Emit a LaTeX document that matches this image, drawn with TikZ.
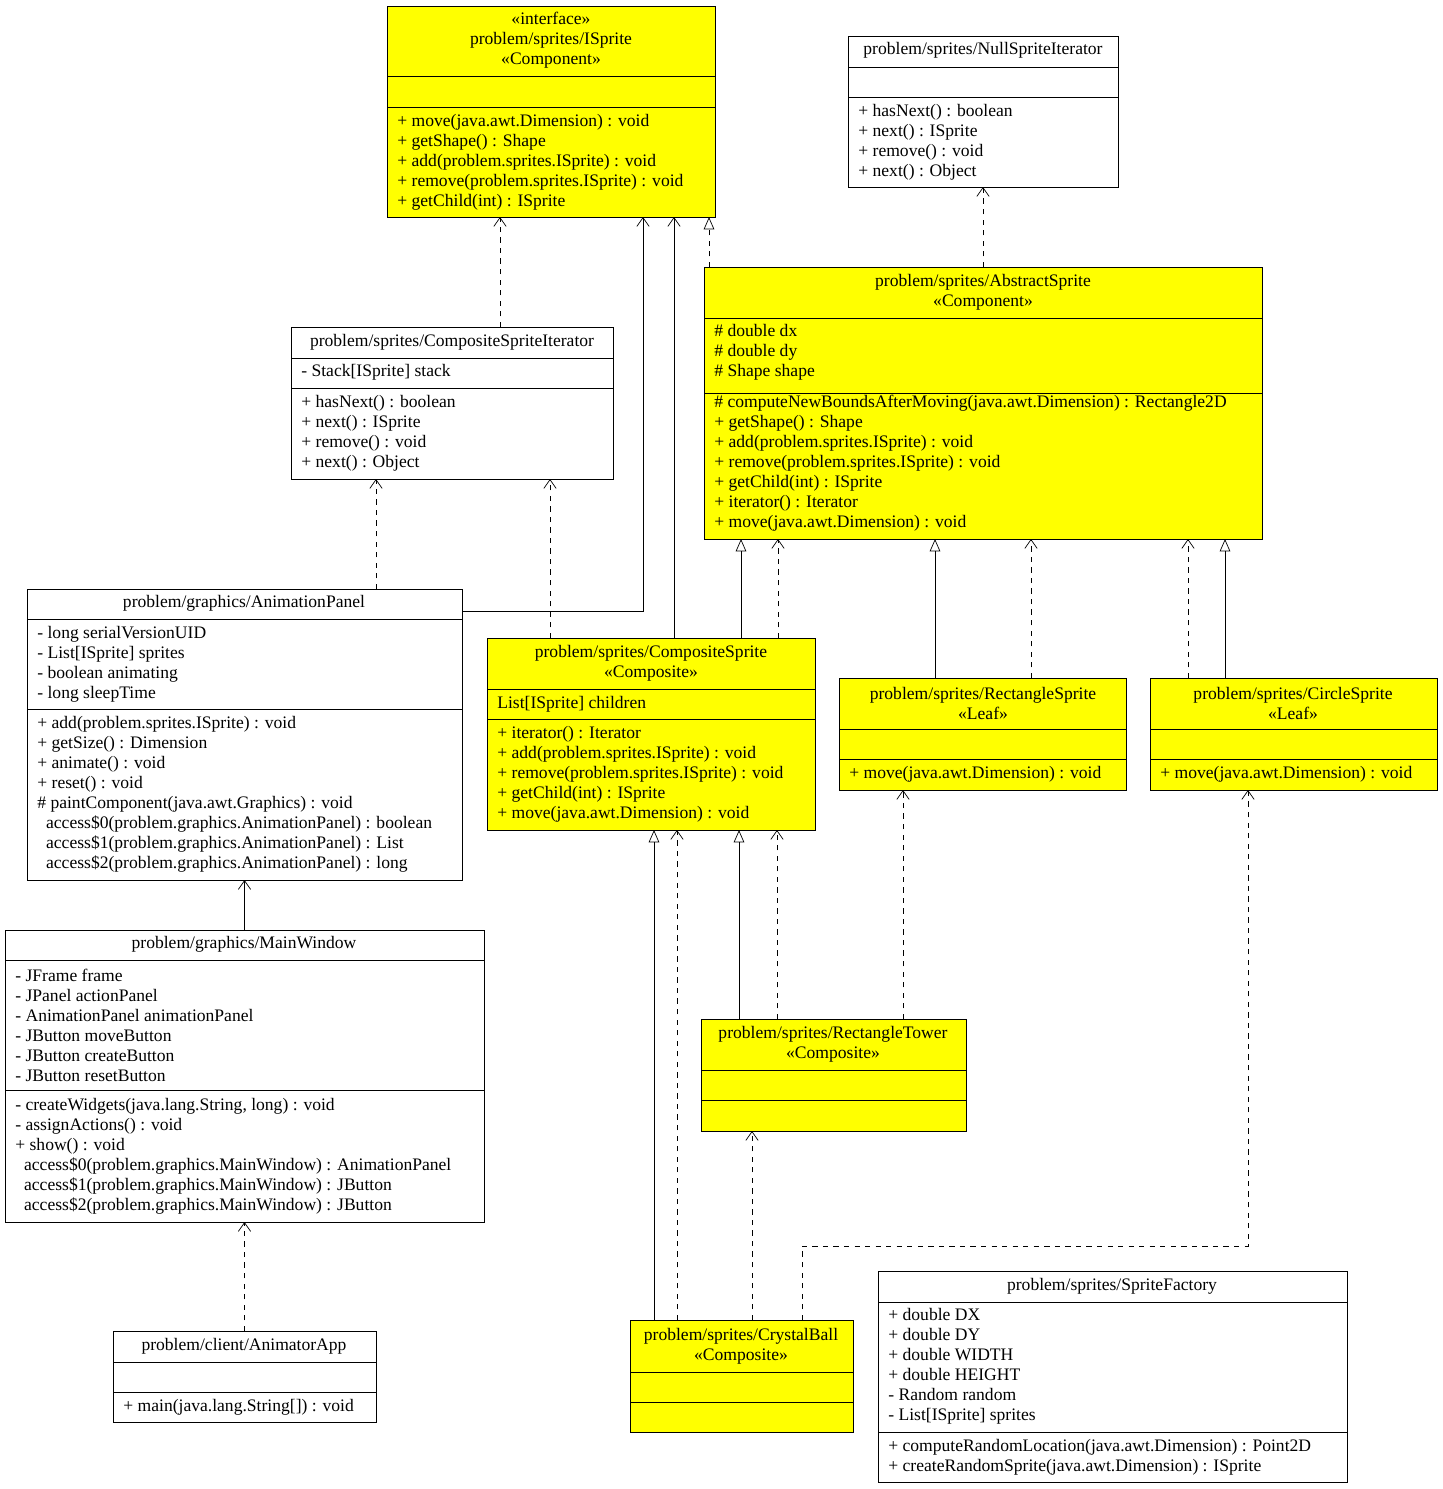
\documentclass[tikz,border=0pt]{standalone}
\usepackage{fontspec}
\setmainfont{Liberation Serif}
\usetikzlibrary{arrows.meta}
\definecolor{uyellow}{RGB}{255,255,0}
% class box: name, left, top, right, bottom, fill, first separator, second separator
\newcommand{\umlclass}[8]{%
  \path[draw,fill=#6] (#2,#3) rectangle (#4,#5);
  \coordinate (#1) at ({(#2+#4)/2},#3);
  \coordinate (#1-s) at ({(#2+#4)/2},#5);
  \draw (#2,#7) -- (#4,#7);
  \draw (#2,#8) -- (#4,#8);
}
\tikzset{
  head/.style={align=center,inner sep=0pt,font=\fontsize{10}{11.38}\selectfont},
  rows/.style={align=left,anchor=west,inner sep=0pt,font=\fontsize{10}{11.38}\selectfont},
  dep/.style={dashed,-{Straight Barb[length=5pt,width=7pt]}},
  assoc/.style={-{Straight Barb[length=5pt,width=7pt]}},
  gen/.style={-{Triangle[open,length=7pt,width=6pt]}},
  real/.style={dashed,-{Triangle[open,length=7pt,width=6pt]}}
}
\begin{document}
\begin{tikzpicture}[x=0.02cm,y=-0.02cm]
\useasboundingbox (0,0) rectangle (1443,1489);
% classes
\umlclass{isp}{387}{6}{715}{217}{uyellow}{76}{107}
\node[head] (isph) at (551,40) {<<interface>>\\problem/sprites/ISprite\\<<Component>>};
\node[rows] (ispm) at (397,162) {+ move(java.awt.Dimension) : void\\+ getShape() : Shape\\+ add(problem.sprites.ISprite) : void\\+ remove(problem.sprites.ISprite) : void\\+ getChild(int) : ISprite};

\umlclass{nsi}{848}{36}{1118}{187}{white}{67}{97}
\node[head] (nsih) at (983,50) {problem/sprites/NullSpriteIterator};
\node[rows] (nsim) at (858,142) {+ hasNext() : boolean\\+ next() : ISprite\\+ remove() : void\\+ next() : Object};

\umlclass{csi}{291}{327}{613}{479}{white}{358}{388}
\node[head] (csih) at (452,342) {problem/sprites/CompositeSpriteIterator};
\node[rows] (csia) at (301,372) {- Stack[ISprite] stack};
\node[rows] (csim) at (301,433) {+ hasNext() : boolean\\+ next() : ISprite\\+ remove() : void\\+ next() : Object};

\umlclass{abs}{704}{267}{1262}{539}{uyellow}{318}{393}
\node[head] (absh) at (983,292) {problem/sprites/AbstractSprite\\<<Component>>};
\node[rows] (absa) at (714,352) {\# double dx\\\# double dy\\\# Shape shape};
\node[rows] (absm) at (714,463) {\# computeNewBoundsAfterMoving(java.awt.Dimension) : Rectangle2D\\+ getShape() : Shape\\+ add(problem.sprites.ISprite) : void\\+ remove(problem.sprites.ISprite) : void\\+ getChild(int) : ISprite\\+ iterator() : Iterator\\+ move(java.awt.Dimension) : void};

\umlclass{anp}{27}{589}{462}{880}{white}{619}{709}
\node[head] (anph) at (244,603) {problem/graphics/AnimationPanel};
\node[rows] (anpa) at (37,664) {- long serialVersionUID\\- List[ISprite] sprites\\- boolean animating\\- long sleepTime};
\node[rows] (anpm) at (37,794) {+ add(problem.sprites.ISprite) : void\\+ getSize() : Dimension\\+ animate() : void\\+ reset() : void\\\# paintComponent(java.awt.Graphics) : void\\\ \ access\$0(problem.graphics.AnimationPanel) : boolean\\\ \ access\$1(problem.graphics.AnimationPanel) : List\\\ \ access\$2(problem.graphics.AnimationPanel) : long};

\umlclass{cps}{487}{638}{815}{830}{uyellow}{689}{719}
\node[head] (cpsh) at (651,663) {problem/sprites/CompositeSprite\\<<Composite>>};
\node[rows] (cpsa) at (497,704) {List[ISprite] children};
\node[rows] (cpsm) at (497,774) {+ iterator() : Iterator\\+ add(problem.sprites.ISprite) : void\\+ remove(problem.sprites.ISprite) : void\\+ getChild(int) : ISprite\\+ move(java.awt.Dimension) : void};

\umlclass{rcs}{839}{678}{1126}{790}{uyellow}{729}{759}
\node[head] (rcsh) at (983,703) {problem/sprites/RectangleSprite\\<<Leaf>>};
\node[rows] (rcsm) at (849,774) {+ move(java.awt.Dimension) : void};

\umlclass{cis}{1150}{678}{1437}{790}{uyellow}{729}{759}
\node[head] (cish) at (1293,703) {problem/sprites/CircleSprite\\<<Leaf>>};
\node[rows] (cism) at (1160,774) {+ move(java.awt.Dimension) : void};

\umlclass{mwd}{5}{930}{484}{1222}{white}{960}{1090}
\node[head] (mwdh) at (244,944) {problem/graphics/MainWindow};
\node[rows] (mwda) at (15,1025) {- JFrame frame\\- JPanel actionPanel\\- AnimationPanel animationPanel\\- JButton moveButton\\- JButton createButton\\- JButton resetButton};
\node[rows] (mwdm) at (15,1156) {- createWidgets(java.lang.String, long) : void\\- assignActions() : void\\+ show() : void\\\ \ access\$0(problem.graphics.MainWindow) : AnimationPanel\\\ \ access\$1(problem.graphics.MainWindow) : JButton\\\ \ access\$2(problem.graphics.MainWindow) : JButton};

\umlclass{rtw}{701}{1019}{966}{1131}{uyellow}{1070}{1100}
\node[head] (rtwh) at (833,1044) {problem/sprites/RectangleTower\\<<Composite>>};

\umlclass{aap}{113}{1331}{376}{1422}{white}{1362}{1392}
\node[head] (aaph) at (244,1346) {problem/client/AnimatorApp};
\node[rows] (aapm) at (123,1407) {+ main(java.lang.String[]) : void};

\umlclass{cbl}{630}{1320}{853}{1432}{uyellow}{1372}{1402}
\node[head] (cblh) at (741,1346) {problem/sprites/CrystalBall\\<<Composite>>};

\umlclass{spf}{878}{1271}{1347}{1482}{white}{1302}{1432}
\node[head] (spfh) at (1112,1286) {problem/sprites/SpriteFactory};
\node[rows] (spfa) at (888,1366) {+ double DX\\+ double DY\\+ double WIDTH\\+ double HEIGHT\\- Random random\\- List[ISprite] sprites};
\node[rows] (spfm) at (888,1457) {+ computeRandomLocation(java.awt.Dimension) : Point2D\\+ createRandomSprite(java.awt.Dimension) : ISprite};

% relations
\draw[dep] (csi -| 500,0) -- (isp-s -| 500,0);
\draw[assoc] (462,611) -| (isp-s -| 643,0);
\draw[assoc] (cps -| 674,0) -- (isp-s -| 674,0);
\draw[real] (abs -| 709,0) -- (isp-s -| 709,0);
\draw[dep] (abs -| 983,0) -- (nsi-s -| 983,0);
\draw[dep] (anp -| 376,0) -- (csi-s -| 376,0);
\draw[dep] (cps -| 550,0) -- (csi-s -| 550,0);
\draw[gen] (cps -| 741,0) -- (abs-s -| 741,0);
\draw[dep] (cps -| 778,0) -- (abs-s -| 778,0);
\draw[gen] (rcs -| 935,0) -- (abs-s -| 935,0);
\draw[dep] (rcs -| 1031,0) -- (abs-s -| 1031,0);
\draw[dep] (cis -| 1188,0) -- (abs-s -| 1188,0);
\draw[gen] (cis -| 1225,0) -- (abs-s -| 1225,0);
\draw[assoc] (mwd) -- (anp-s);
\draw[dep] (aap) -- (mwd-s);
\draw[gen] (cbl -| 654,0) -- (cps-s -| 654,0);
\draw[dep] (cbl -| 677,0) -- (cps-s -| 677,0);
\draw[gen] (rtw -| 739,0) -- (cps-s -| 739,0);
\draw[dep] (rtw -| 777,0) -- (cps-s -| 777,0);
\draw[dep] (rtw -| 903,0) -- (rcs-s -| 903,0);
\draw[dep] (cbl -| 752,0) -- (rtw-s -| 752,0);
\draw[dep] (cbl -| 802,0) -- (802,1246) -| (cis-s -| 1248,0);
\end{tikzpicture}
\end{document}
